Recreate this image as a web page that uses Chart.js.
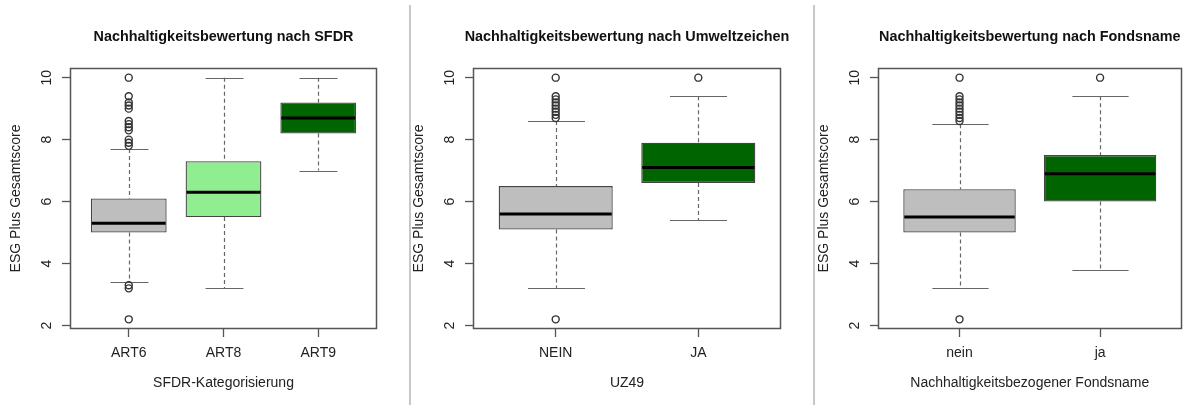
<!DOCTYPE html>
<html>
<head>
<meta charset="utf-8">
<script src="https://cdn.jsdelivr.net/npm/chart.js@4/dist/chart.umd.min.js"></script>
<style>
  html, body { margin: 0; padding: 0; background: #fff; overflow: hidden; }
  #wrap { position: relative; width: 1187px; height: 405px; }
  canvas { position: absolute; top: 0; }
  .sep { position: absolute; top: 5px; width: 2px; height: 400px; background: #c8c8c8; }
</style>
</head>
<body>
<div id="wrap">
  <canvas id="sfdr" width="399" height="405" style="left:0px"></canvas>
  <canvas id="uz" width="400" height="405" style="left:403px"></canvas>
  <canvas id="name" width="379" height="405" style="left:808px"></canvas>
  <div class="sep" style="left:409px"></div>
  <div class="sep" style="left:813px"></div>
</div>
<script>
// tick values of the score axis (same for all three panels)
const scoreTicks = [2, 4, 6, 8, 10]

// Panel 1: SFDR
const sfdrCats = ['ART6', 'ART8', 'ART9']
const sfdrQ1 = [5.0, 5.5, 8.2]
const sfdrMedian = [5.3, 6.3, 8.7]
const sfdrQ3 = [6.1, 7.3, 9.2]
const sfdrLow = [3.4, 3.2, 7.0]
const sfdrHigh = [7.7, 10.0, 10.0]
const sfdrOutliers = [
  [2.2, 3.2, 3.3, 7.8, 7.9, 8.0, 8.3, 8.4, 8.5, 8.6, 9.0, 9.1, 9.2, 9.4, 10.0],
  [],
  []
]
const sfdrColors = ['#bebebe', '#90ee90', '#006400']

// Panel 2: Umweltzeichen
const uzCats = ['NEIN', 'JA']
const uzQ1 = [5.1, 6.6]
const uzMedian = [5.6, 7.1]
const uzQ3 = [6.5, 7.9]
const uzLow = [3.2, 5.4]
const uzHigh = [8.6, 9.4]
const uzOutliers = [
  [2.2, 8.7, 8.8, 8.9, 9.0, 9.1, 9.2, 9.3, 9.4, 10.0],
  [10.0]
]
const uzColors = ['#bebebe', '#006400']

// Panel 3: Fondsname
const nameCats = ['nein', 'ja']
const nameQ1 = [5.0, 6.0]
const nameMedian = [5.5, 6.9]
const nameQ3 = [6.4, 7.5]
const nameLow = [3.2, 3.8]
const nameHigh = [8.5, 9.4]
const nameOutliers = [
  [2.2, 8.6, 8.7, 8.8, 8.9, 9.0, 9.1, 9.2, 9.3, 9.4, 10.0],
  [10.0]
]
const nameColors = ['#bebebe', '#006400']

Chart.defaults.font.family = '"Liberation Sans", Arial, sans-serif'
Chart.defaults.color = '#222'

// whiskers, caps, medians, frame and title, all placed via the chart scales
const boxParts = {
  id: 'boxParts',
  beforeDatasetsDraw (chart, args, opts) {
    const { ctx, scales: { x, y } } = chart
    const bars = chart.getDatasetMeta(0).data
    ctx.save()
    ctx.strokeStyle = '#666'
    ctx.lineWidth = 1.2
    opts.low.forEach((lo, i) => {
      const px = Math.round(x.getPixelForValue(i + 1)) + 0.5
      const half = bars[i].width / 4
      const hi = opts.high[i]
      ctx.setLineDash([4, 3])
      ctx.beginPath()
      ctx.moveTo(px, y.getPixelForValue(hi))
      ctx.lineTo(px, y.getPixelForValue(opts.q3[i]))
      ctx.moveTo(px, y.getPixelForValue(opts.q1[i]))
      ctx.lineTo(px, y.getPixelForValue(lo))
      ctx.stroke()
      ctx.setLineDash([])
      ctx.beginPath()
      const yh = Math.round(y.getPixelForValue(hi)) + 0.5
      const yl = Math.round(y.getPixelForValue(lo)) + 0.5
      ctx.moveTo(px - half, yh); ctx.lineTo(px + half, yh)
      ctx.moveTo(px - half, yl); ctx.lineTo(px + half, yl)
      ctx.stroke()
    })
    ctx.restore()
  },
  afterDatasetsDraw (chart, args, opts) {
    const { ctx, scales: { x, y } } = chart
    const bars = chart.getDatasetMeta(0).data
    ctx.save()
    ctx.strokeStyle = '#000'
    ctx.lineWidth = 3
    opts.median.forEach((m, i) => {
      const px = x.getPixelForValue(i + 1)
      const half = bars[i].width / 2
      const py = y.getPixelForValue(m)
      ctx.beginPath()
      ctx.moveTo(px - half + 1, py)
      ctx.lineTo(px + half - 1, py)
      ctx.stroke()
    })
    ctx.restore()
  },
  afterDraw (chart, args, opts) {
    const { ctx, chartArea: a } = chart
    ctx.save()
    ctx.strokeStyle = '#555'
    ctx.lineWidth = 1.5
    ctx.strokeRect(Math.round(a.left) + 0.5, Math.round(a.top) + 0.5,
      Math.round(a.right - a.left) - 1, Math.round(a.bottom - a.top) - 1)
    ctx.fillStyle = '#111'
    ctx.font = 'bold 14.4px "Liberation Sans", Arial, sans-serif'
    ctx.textAlign = 'center'
    ctx.textBaseline = 'middle'
    ctx.fillText(opts.title, (a.left + a.right) / 2, 37)
    ctx.restore()
  }
}

function makeBoxplot (id, title, xTitle, cats, q1, med, q3, low, high, outliers, colors, padRight) {
  const n = cats.length
  const outlierPoints = []
  outliers.forEach((list, i) => list.forEach(v => outlierPoints.push({ x: i + 1, y: v })))

  new Chart(document.getElementById(id), {
    type: 'bar',
    data: {
      datasets: [
        {
          data: cats.map((c, i) => ({ x: i + 1, y: [q1[i], q3[i]] })),
          backgroundColor: colors,
          borderColor: '#444',
          borderWidth: 1.3,
          borderSkipped: false,
          categoryPercentage: 1,
          barPercentage: 0.8
        },
        {
          type: 'line',
          data: outlierPoints,
          showLine: false,
          pointStyle: 'circle',
          pointRadius: 3.5,
          pointBorderWidth: 1.4,
          pointBorderColor: '#333',
          pointBackgroundColor: 'rgba(0,0,0,0)'
        }
      ]
    },
    options: {
      responsive: false,
      animation: false,
      devicePixelRatio: 1,
      layout: { padding: { top: 68, right: padRight, bottom: 0, left: 0 } },
      plugins: {
        legend: { display: false },
        tooltip: { enabled: false },
        boxParts: { title, low, high, q1, q3, median: med }
      },
      scales: {
        x: {
          type: 'linear',
          offset: false,
          min: 0.5 - 0.04 * n,
          max: n + 0.5 + 0.04 * n,
          afterBuildTicks: s => { s.ticks = cats.map((c, i) => ({ value: i + 1 })) },
          afterFit: s => { s.height = 76 },
          border: { display: false },
          grid: { offset: false, drawOnChartArea: false, drawTicks: true, tickLength: 8, tickColor: '#555', tickWidth: 1.3 },
          ticks: {
            font: { size: 14 },
            padding: 8,
            maxRotation: 0,
            autoSkip: false,
            callback: (v, i) => cats[i]
          },
          title: { display: true, text: xTitle, font: { size: 14 }, padding: { top: 0, bottom: 13 } }
        },
        y: {
          min: 2.2 - 0.04 * 7.8,
          max: 10 + 0.04 * 7.8,
          afterBuildTicks: s => { s.ticks = scoreTicks.map(v => ({ value: v })) },
          afterFit: s => { s.width = 70 },
          border: { display: false },
          grid: { drawOnChartArea: false, drawTicks: true, tickLength: 8, tickColor: '#555', tickWidth: 1.3 },
          ticks: {
            font: { size: 14 },
            padding: 7,
            minRotation: 90,
            maxRotation: 90,
            crossAlign: 'center'
          },
          title: { display: true, text: 'ESG Plus Gesamtscore', font: { size: 14 }, padding: { top: 8, bottom: 0 } }
        }
      }
    },
    plugins: [boxParts]
  })
}

makeBoxplot('sfdr', 'Nachhaltigkeitsbewertung nach SFDR', 'SFDR-Kategorisierung',
  sfdrCats, sfdrQ1, sfdrMedian, sfdrQ3, sfdrLow, sfdrHigh, sfdrOutliers, sfdrColors, 22)
makeBoxplot('uz', 'Nachhaltigkeitsbewertung nach Umweltzeichen', 'UZ49',
  uzCats, uzQ1, uzMedian, uzQ3, uzLow, uzHigh, uzOutliers, uzColors, 22)
makeBoxplot('name', 'Nachhaltigkeitsbewertung nach Fondsname', 'Nachhaltigkeitsbezogener Fondsname',
  nameCats, nameQ1, nameMedian, nameQ3, nameLow, nameHigh, nameOutliers, nameColors, 2)
</script>
</body>
</html>
